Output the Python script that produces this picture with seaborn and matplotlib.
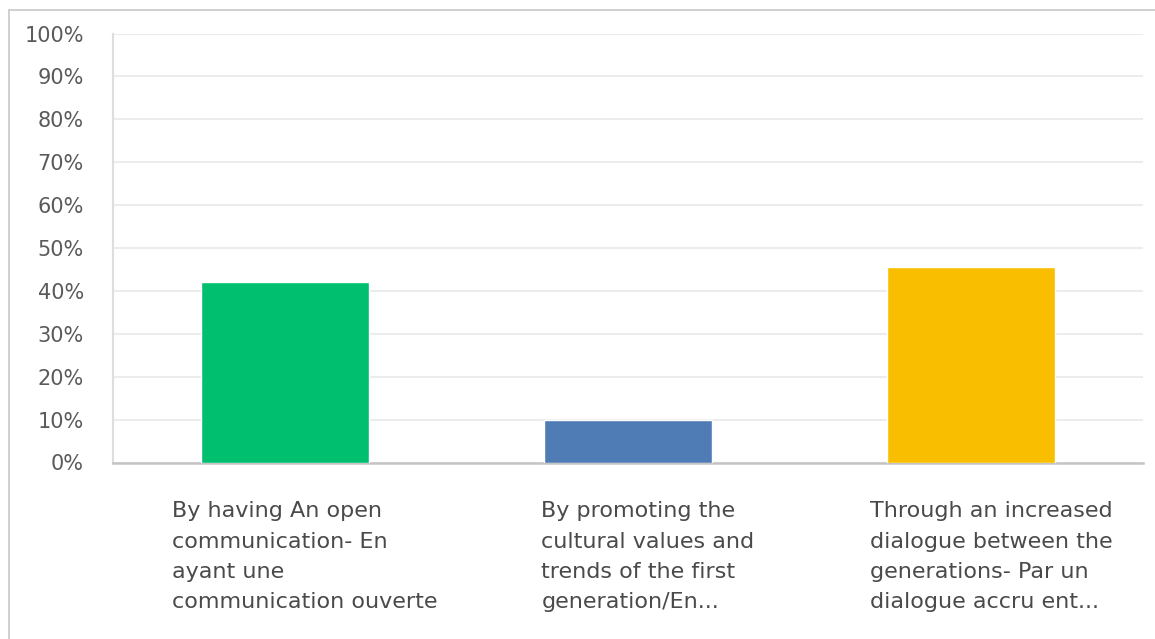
import matplotlib
matplotlib.use("Agg")
import matplotlib.pyplot as plt
import matplotlib.transforms as mtransforms
from matplotlib.patches import Rectangle
from matplotlib.ticker import PercentFormatter
import seaborn as sns
import pandas as pd

# Survey answers and share of respondents (%)
categories = [
    "By having An open\ncommunication- En\nayant une\ncommunication ouverte",
    "By promoting the\ncultural values and\ntrends of the first\ngeneration/En...",
    "Through an increased\ndialogue between the\ngenerations- Par un\ndialogue accru ent...",
]
shares = [42.1, 10.0, 45.6]
bar_colors = ["#00BF6F", "#507CB6", "#F9BE00"]
y_ticks = list(range(0, 101, 10))

df = pd.DataFrame({"answer": categories, "share": shares})

sns.set_theme(style="white")
plt.rcParams["font.family"] = ["DejaVu Sans"]

W, H = 1155, 639
fig = plt.figure(figsize=(W / 100, H / 100), dpi=100)
ax = fig.add_axes([113 / W, 1 - 462.5 / H, (1143 - 113) / W, (462.5 - 33.5) / H])

sns.barplot(data=df, x="answer", y="share", hue="answer", palette=bar_colors,
            width=0.49, legend=False, saturation=1, ax=ax, zorder=3)

ax.set_ylim(0, 100)
ax.set_xlim(-0.5, len(categories) - 0.5)
ax.set_yticks(y_ticks)
ax.yaxis.set_major_formatter(PercentFormatter(decimals=0))
ax.grid(axis="y", color="#ececec", linewidth=1.5, zorder=0)
ax.set_axisbelow(True)
ax.set_xlabel("")
ax.set_ylabel("")

for side in ("top", "right"):
    ax.spines[side].set_visible(False)
ax.spines["left"].set_color("#dedede")
ax.spines["left"].set_linewidth(1.5)
ax.spines["bottom"].set_color("#c4c4c4")
ax.spines["bottom"].set_linewidth(1.8)

ax.tick_params(axis="y", length=0, pad=21, labelsize=15, labelcolor="#5a5a5a")
ax.tick_params(axis="x", length=0, pad=28, labelsize=16, labelcolor="#4a4a4a")

shift = mtransforms.ScaledTranslation(20 / 100, 0, fig.dpi_scale_trans)
for lbl in ax.get_xticklabels():
    lbl.set_multialignment("left")
    lbl.set_linespacing(1.64)
    lbl.set_verticalalignment("top")
    lbl.set_transform(lbl.get_transform() + shift)

# thin frame along the top and left edges of the panel
fig.patches.append(Rectangle((8.5 / W, -0.1), 1.2, 1 - 9.5 / H + 0.1,
                             transform=fig.transFigure, fill=False,
                             edgecolor="#c8c8c8", linewidth=1.2))

fig.savefig("out.png", dpi=100, facecolor="white")
